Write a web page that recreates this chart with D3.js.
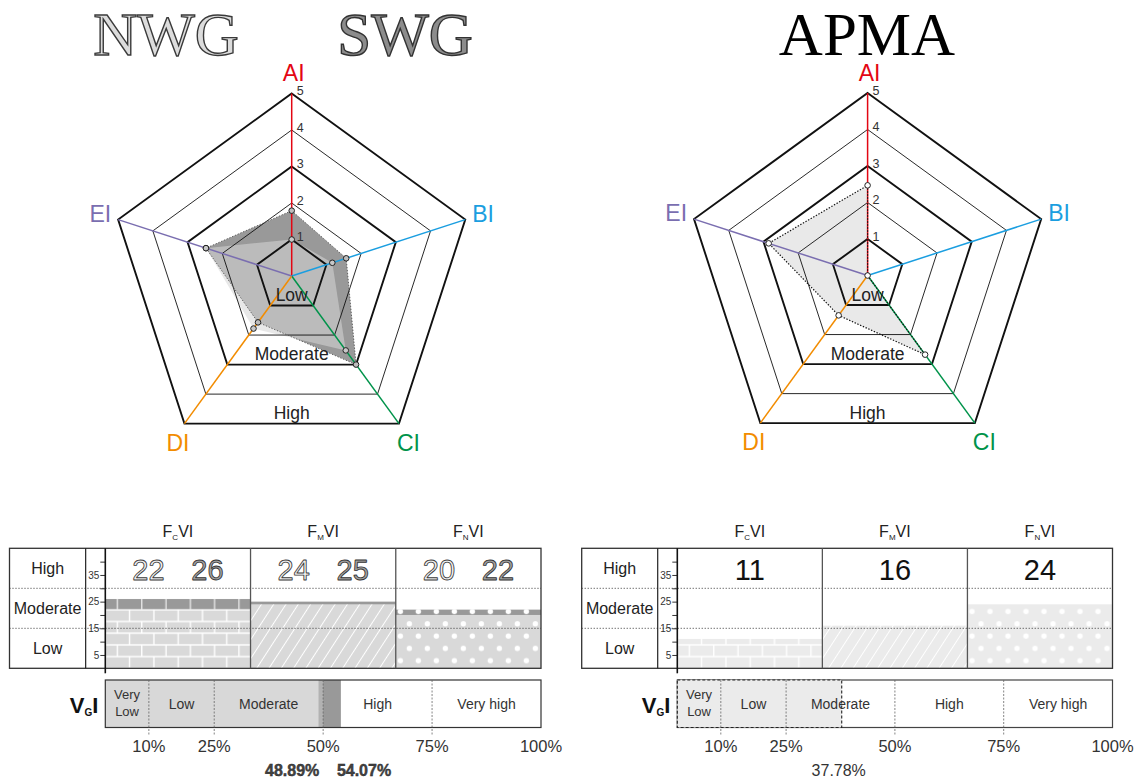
<!DOCTYPE html>
<html>
<head>
<meta charset="utf-8">
<script src="https://cdn.jsdelivr.net/npm/d3@7"></script>
<style>
  body { margin: 0; background: #fff; }
  svg { display: block; font-family: Arial, "Liberation Sans", sans-serif; }
</style>
</head>
<body>
<svg id="chart" width="1146" height="781"></svg>
<script>
// ---------- data ----------
const radarAxes = ["AI", "BI", "CI", "DI", "EI"];
const radarLevels = [1, 2, 3, 4, 5];
const zoneNames = ["Low", "Moderate", "High"];
const zoneUpper = [1, 3, 5];
const nwgScores = [1.0, 1.17, 2.52, 1.78, 2.47];
const swgScores = [1.79, 1.57, 3.0, 1.57, 2.47];
const apmaScores = [2.47, 0, 2.68, 1.35, 2.85];

const fviCodes = ["C", "M", "N"];
const fviNwg = [22, 24, 20];
const fviSwg = [26, 25, 22];
const fviApma = [11, 16, 24];
const fviClasses = ["High", "Moderate", "Low"];
const fviClassBreaks = [30, 15];
const fviTicks = [5, 10, 15, 20, 25, 30, 35, 40];
const fviTickLabels = [5, 15, 25, 35];

const vgiClasses = ["Very Low", "Low", "Moderate", "High", "Very high"];
const vgiBreaks = [0, 10, 25, 50, 75, 100];
const vgiNwg = 48.89;
const vgiSwg = 54.07;
const vgiApma = 37.78;

// ---------- styles ----------
const axisColors = { AI: "#e30613", BI: "#1a9ee0", CI: "#00934a", DI: "#f28c00", EI: "#7a6eb0" };
const shades = {
  light: { base: "#d9d9d9", ink: "#ffffff" },
  dark:  { base: "#999999", ink: "#e4e4e4" },
  pale:  { base: "#ebebeb", ink: "#ffffff" }
};
const patternKind = { C: "brick", M: "hatch", N: "dots" };

const svg = d3.select("#chart");
const defs = svg.append("defs");

// ---------- titles ----------
function title(x, text, fill, stroke) {
  svg.append("text").attr("x", x).attr("y", 55)
    .attr("text-anchor", "middle")
    .attr("font-family", "'Liberation Serif', 'Times New Roman', serif")
    .attr("font-size", 61)
    .attr("fill", fill)
    .attr("stroke", stroke).attr("stroke-width", stroke === "none" ? 0 : 1.4)
    .text(text);
}
title(166, "NWG", "#dcdcdc", "#3a3a3a");
title(405, "SWG", "#8c8c8c", "#333");
title(867, "APMA", "#000", "none");

// ---------- radar ----------
function radar(cx, cy, layers) {
  const g = svg.append("g");
  const r = d3.scaleLinear().domain([0, 5]).range([0, 182.5]);
  const n = radarAxes.length;
  const angle = d3.scalePoint().domain(radarAxes).range([0, 2 * Math.PI * (n - 1) / n]);
  const pt = (a, v) => {
    const t = angle(a) - Math.PI / 2;
    return [cx + r(v) * Math.cos(t), cy + r(v) * Math.sin(t)];
  };
  const closed = d3.line().curve(d3.curveLinearClosed);

  // filled profiles
  layers.forEach(L => {
    g.append("path")
      .attr("d", closed(radarAxes.map((a, i) => pt(a, L.values[i]))))
      .attr("fill", L.fill).attr("fill-opacity", L.opacity).attr("stroke", "none");
  });

  // rings
  radarLevels.forEach(l => {
    g.append("path")
      .attr("d", closed(radarAxes.map(a => pt(a, l))))
      .attr("fill", "none").attr("stroke", "#111")
      .attr("stroke-width", zoneUpper.includes(l) ? 1.9 : 0.9);
  });

  // spokes
  radarAxes.forEach(a => {
    const [x, y] = pt(a, 5);
    g.append("line").attr("x1", cx).attr("y1", cy).attr("x2", x).attr("y2", y)
      .attr("stroke", axisColors[a]).attr("stroke-width", 1.5);
  });

  // profile outlines and markers
  layers.forEach(L => {
    if (L.outline) {
      g.append("path")
        .attr("d", closed(radarAxes.map((a, i) => pt(a, L.values[i]))))
        .attr("fill", "none").attr("stroke", L.outline)
        .attr("stroke-width", L.outlineWidth).attr("stroke-dasharray", "1.4,1.6");
    }
  });
  layers.forEach(L => {
    g.selectAll(null).data(radarAxes).enter().append("circle")
      .attr("cx", (a, i) => pt(a, L.values[i])[0])
      .attr("cy", (a, i) => pt(a, L.values[i])[1])
      .attr("r", 2.8).attr("fill", L.marker).attr("stroke", "#222").attr("stroke-width", 1);
  });

  // level numbers along AI
  radarLevels.forEach(l => {
    g.append("text").attr("x", cx + 5).attr("y", cy - r(l) + 1.5)
      .attr("font-size", 12.5).attr("fill", "#333").text(l);
  });

  // zone names
  zoneNames.forEach((z, i) => {
    g.append("text").attr("x", cx).attr("y", cy + r(zoneUpper[i]) * Math.cos(Math.PI / 5) - 4.5)
      .attr("text-anchor", "middle").attr("font-size", 17.5).attr("fill", "#222").text(z);
  });

  // axis names
  const off = { AI: [2, -12.5, "middle"], BI: [7, 2, "start"], CI: [-2, 27, "start"], DI: [5, 27, "end"], EI: [-7, 2, "end"] };
  radarAxes.forEach(a => {
    const [x, y] = pt(a, 5);
    g.append("text").attr("x", x + off[a][0]).attr("y", y + off[a][1])
      .attr("text-anchor", off[a][2]).attr("font-size", 23)
      .attr("fill", axisColors[a]).text(a);
  });
}

radar(291.7, 276, [
  { values: swgScores, fill: "#999999", opacity: 1, outline: "#555", outlineWidth: 0.9, marker: "#bdbdbd" },
  { values: nwgScores, fill: "#d6d6d6", opacity: 0.56, outline: null, marker: "#c8c8c8" }
]);
radar(867.6, 275.5, [
  { values: apmaScores, fill: "#e9e9e9", opacity: 1, outline: "#111", outlineWidth: 1.2, marker: "#ffffff" }
]);

// ---------- fill patterns ----------
function makePattern(id, kind, shade, px, bottom) {
  const base = shades[shade].base, ink = shades[shade].ink;
  const p = defs.append("pattern").attr("id", id).attr("patternUnits", "userSpaceOnUse");
  if (kind === "brick") {
    const w = 24.3, h = 11.7;
    p.attr("x", px).attr("y", bottom).attr("width", 2 * w).attr("height", 2 * h);
    p.append("rect").attr("width", 2 * w).attr("height", 2 * h).attr("fill", base);
    p.append("path")
      .attr("d", `M0,0H${2 * w}M0,${h}H${2 * w}M0,${2 * h}H${2 * w}` +
                 `M${w / 2},0V${h}M${w * 1.5},0V${h}` +
                 `M0,${h}V${2 * h}M${w},${h}V${2 * h}M${2 * w},${h}V${2 * h}`)
      .attr("stroke", ink).attr("stroke-width", 1.4).attr("fill", "none");
  } else if (kind === "hatch") {
    const s = 10.3;
    p.attr("x", px).attr("y", bottom).attr("width", s).attr("height", 40)
      .attr("patternTransform", `rotate(33 ${px} ${bottom})`);
    p.append("rect").attr("width", s).attr("height", 40).attr("fill", base);
    if (shade !== "dark") {
      p.append("line").attr("x1", s / 2).attr("x2", s / 2).attr("y1", 0).attr("y2", 40)
        .attr("stroke", ink).attr("stroke-width", 1);
    }
  } else {
    const w = 18, h = 24.6;
    p.attr("x", px + 0.1).attr("y", bottom - 62.95).attr("width", w).attr("height", h);
    p.append("rect").attr("width", w).attr("height", h).attr("fill", base);
    p.append("circle").attr("cx", 4.5).attr("cy", 6.15).attr("r", 2.7).attr("fill", "#fff");
    p.append("circle").attr("cx", 13.5).attr("cy", 18.45).attr("r", 2.7).attr("fill", "#fff");
  }
}

// ---------- index tables ----------
function outlinedNumber(g, x, y, txt, fill, stroke) {
  g.append("text").attr("x", x).attr("y", y).attr("text-anchor", "middle")
    .attr("font-size", 29).attr("fill", fill)
    .attr("stroke", stroke).attr("stroke-width", 0.85).attr("stroke-linejoin", "round")
    .text(txt);
}

function fviTable(tag, x0, axisX, x1, series, plainNumbers) {
  const g = svg.append("g");
  const top = 548.3, bottom = 668.3;
  const y = d3.scaleLinear().domain([0, 45]).range([bottom, top]);
  const xb = d3.scaleBand().domain(fviCodes).range([axisX, x1]);

  // bars
  fviCodes.forEach((code, j) => {
    series.forEach((S, k) => {
      const id = `${tag}-${code}-${k}`;
      makePattern(id, patternKind[code], S.shade, xb(code), bottom);
      g.append("rect").attr("x", xb(code)).attr("width", xb.bandwidth())
        .attr("y", y(S.values[j])).attr("height", bottom - y(S.values[j]))
        .attr("fill", `url(#${id})`);
    });
  });

  // class separators
  fviClassBreaks.forEach(b => {
    g.append("line").attr("x1", x0).attr("x2", x1).attr("y1", y(b)).attr("y2", y(b))
      .attr("stroke", "#333").attr("stroke-width", 1).attr("stroke-dasharray", "1,2");
  });

  // frame
  g.append("rect").attr("x", x0).attr("y", top).attr("width", x1 - x0).attr("height", bottom - top)
    .attr("fill", "none").attr("stroke", "#333").attr("stroke-width", 1.3);
  const labelDiv = x0 + (axisX - x0) * 0.795;
  g.append("line").attr("x1", labelDiv).attr("x2", labelDiv).attr("y1", top).attr("y2", bottom)
    .attr("stroke", "#222").attr("stroke-width", 1.2);
  fviCodes.slice(1).forEach(code => {
    g.append("line").attr("x1", xb(code)).attr("x2", xb(code)).attr("y1", top).attr("y2", bottom)
      .attr("stroke", "#555").attr("stroke-width", 1.3);
  });

  // value axis
  const ax = g.append("g").attr("transform", `translate(${axisX},0)`)
    .call(d3.axisLeft(y).tickValues(fviTicks).tickSize(5).tickPadding(1)
      .tickFormat(d => fviTickLabels.includes(d) ? d : ""));
  ax.select(".domain").remove();
  ax.selectAll(".tick line").attr("stroke", "#333");
  ax.selectAll(".tick text").attr("font-size", 10).attr("fill", "#333")
    .attr("font-family", "Arial, 'Liberation Sans', sans-serif");
  g.append("line").attr("x1", axisX).attr("x2", axisX).attr("y1", top).attr("y2", bottom + 5)
    .attr("stroke", "#111").attr("stroke-width", 1.6);

  // class names
  const rowH = (bottom - top) / fviClasses.length;
  fviClasses.forEach((c, i) => {
    g.append("text").attr("x", (x0 + labelDiv) / 2).attr("y", top + rowH * (i + 0.5) + 5.5)
      .attr("text-anchor", "middle").attr("font-size", 16).attr("fill", "#222").text(c);
  });

  // panel titles
  fviCodes.forEach(code => {
    const t = g.append("text").attr("x", xb(code) + xb.bandwidth() / 2).attr("y", 537)
      .attr("text-anchor", "middle").attr("font-size", 16).attr("fill", "#222");
    t.append("tspan").text("F");
    t.append("tspan").attr("font-size", 8).attr("dy", 3).text(code);
    t.append("tspan").attr("dy", -3).text("VI");
  });

  // values
  fviCodes.forEach((code, j) => {
    const c = xb(code) + xb.bandwidth() / 2;
    if (plainNumbers) {
      g.append("text").attr("x", c).attr("y", 580).attr("text-anchor", "middle")
        .attr("font-size", 29).attr("fill", "#111").text(series[0].values[j]);
    } else {
      outlinedNumber(g, c - 29.5, 580, fviNwg[j], "#f2f2f2", "#3a3a3a");
      outlinedNumber(g, c + 29.5, 580, fviSwg[j], "#a3a3a3", "#333");
    }
  });
}

fviTable("L", 9.5, 105.3, 541, [
  { values: fviSwg, shade: "dark" },
  { values: fviNwg, shade: "light" }
], false);
fviTable("R", 581.7, 677.3, 1112.5, [
  { values: fviApma, shade: "pale" }
], true);

// ---------- VGI bars ----------
function vgiBar(x0, x1, draw) {
  const g = svg.append("g");
  const top = 680, bottom = 727.5;
  const x = d3.scaleLinear().domain([0, 100]).range([x0, x1]);
  draw(g, x, top, bottom);

  // class dividers
  vgiBreaks.slice(1, -1).forEach(b => {
    g.append("line").attr("x1", x(b)).attr("x2", x(b)).attr("y1", top).attr("y2", bottom + 8)
      .attr("stroke", "#666").attr("stroke-width", 0.8).attr("stroke-dasharray", "2,1.5");
  });

  // class names
  vgiClasses.forEach((c, i) => {
    const cxm = (x(vgiBreaks[i]) + x(vgiBreaks[i + 1])) / 2;
    const words = c.split(" ");
    if (x(vgiBreaks[i + 1]) - x(vgiBreaks[i]) < 60 && words.length > 1) {
      words.forEach((w, k) => g.append("text").attr("x", cxm).attr("y", 699 + k * 17)
        .attr("text-anchor", "middle").attr("font-size", 13).attr("fill", "#333").text(w));
    } else {
      g.append("text").attr("x", cxm).attr("y", 708.5).attr("text-anchor", "middle")
        .attr("font-size", 14).attr("fill", "#333").text(c);
    }
  });

  // percentage ticks
  vgiBreaks.slice(1).forEach(b => {
    g.append("text").attr("x", x(b)).attr("y", 752).attr("text-anchor", "middle")
      .attr("font-size", 16.5).attr("fill", "#333").text(b + "%");
  });

  // index name
  const t = g.append("text").attr("x", x0 - 7).attr("y", 713).attr("text-anchor", "end")
    .attr("font-size", 22).attr("font-weight", "bold").attr("fill", "#111");
  t.append("tspan").text("V");
  t.append("tspan").attr("font-size", 10).attr("dy", 3).text("G");
  t.append("tspan").attr("dy", -3).text("I");
  return { g, x, top, bottom };
}

vgiBar(105.3, 541, (g, x, top, bottom) => {
  g.append("rect").attr("x", x(0)).attr("y", top).attr("width", x(vgiNwg) - x(0)).attr("height", bottom - top)
    .attr("fill", "#cbcbcb");
  g.append("rect").attr("x", x(vgiNwg)).attr("y", top).attr("width", x(vgiSwg) - x(vgiNwg)).attr("height", bottom - top)
    .attr("fill", "#999");
  // tint over the lower half of the scale
  g.append("rect").attr("x", x(0)).attr("y", top).attr("width", x(vgiBreaks[3]) - x(0)).attr("height", bottom - top)
    .attr("fill", "#fff").attr("fill-opacity", 0.25);
  g.append("rect").attr("x", x(0)).attr("y", top).attr("width", x(100) - x(0)).attr("height", bottom - top)
    .attr("fill", "none").attr("stroke", "#333").attr("stroke-width", 1.2);
  const lab = (v, dx, anchor) => {
    g.append("text").attr("x", x(v) + dx).attr("y", 776).attr("text-anchor", anchor)
      .attr("font-size", 16).attr("font-weight", "bold").attr("fill", "#444")
      .attr("stroke", "#222").attr("stroke-width", 0.4).text(v.toFixed(2) + "%");
  };
  lab(vgiNwg, 1, "end");
  lab(vgiSwg, -4, "start");
});

vgiBar(677.3, 1112.5, (g, x, top, bottom) => {
  g.append("rect").attr("x", x(0)).attr("y", top).attr("width", x(100) - x(0)).attr("height", bottom - top)
    .attr("fill", "none").attr("stroke", "#444").attr("stroke-width", 1.2);
  g.append("rect").attr("x", x(0)).attr("y", top).attr("width", x(vgiApma) - x(0)).attr("height", bottom - top)
    .attr("fill", "#ebebeb").attr("stroke", "#222").attr("stroke-width", 1.1).attr("stroke-dasharray", "3,2");
  g.append("text").attr("x", x(vgiApma) - 3).attr("y", 776).attr("text-anchor", "middle")
    .attr("font-size", 16).attr("fill", "#333").text(vgiApma.toFixed(2) + "%");
});
</script>
</body>
</html>
